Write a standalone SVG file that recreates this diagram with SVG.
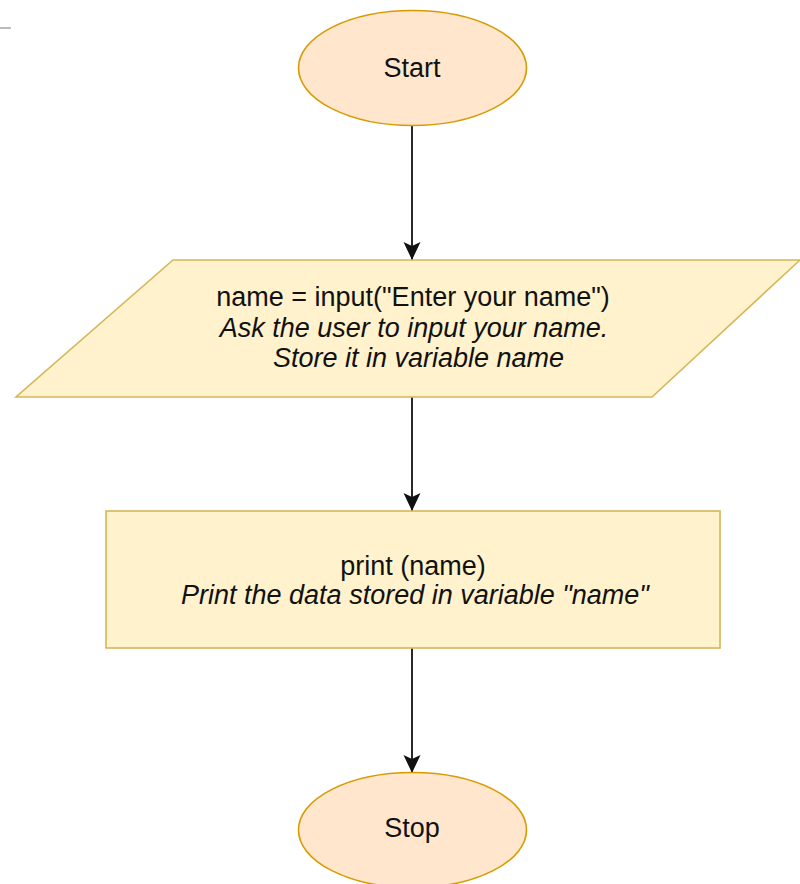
<svg xmlns="http://www.w3.org/2000/svg" width="800" height="884" viewBox="0 0 800 884">
  <style>
    .terminal { fill: #ffe6cc; stroke: #d79b00; stroke-width: 1.6; }
    .process { fill: #fff2cc; stroke: #d6b656; stroke-width: 1.6; }
    .label { font-family: "Liberation Sans", Arial, sans-serif; font-size: 27px; fill: #111; text-anchor: middle; }
    .note { font-style: italic; }
    .edge { stroke: #111; stroke-width: 1.8; fill: none; marker-end: url(#arrow); }
  </style>
  <defs>
    <marker id="arrow" viewBox="0 0 18 18" refX="18" refY="9" markerWidth="18" markerHeight="18" markerUnits="userSpaceOnUse" orient="auto">
      <path d="M0,0.5 L18,9 L0,17.5 L4,9 Z" fill="#111"/>
    </marker>
  </defs>
  <rect width="800" height="884" fill="#ffffff"/>
  <line x1="0" y1="28" x2="11" y2="28" stroke="#bbbbbb" stroke-width="2"/>

  <g id="connectors">
    <line class="edge" x1="412" y1="126" x2="412" y2="260"/>
    <line class="edge" x1="412" y1="397" x2="412" y2="511"/>
    <line class="edge" x1="412" y1="648" x2="412" y2="773"/>
  </g>

  <g id="start">
    <ellipse class="terminal" cx="412.5" cy="68" rx="114" ry="57.5"/>
    <text class="label" x="412" y="77">Start</text>
  </g>

  <g id="input">
    <polygon class="process" points="173,260 800,260 652,397 16,397"/>
    <text class="label" x="413" y="306">name = input("Enter your name")</text>
    <text class="label note" x="414" y="337">Ask the user to input your name.</text>
    <text class="label note" x="418.5" y="367">Store it in variable name</text>
  </g>

  <g id="print">
    <rect class="process" x="106" y="511" width="614" height="137"/>
    <text class="label" x="413" y="575">print (name)</text>
    <text class="label note" x="415" y="604">Print the data stored in variable "name"</text>
  </g>

  <g id="stop">
    <ellipse class="terminal" cx="412.5" cy="830" rx="114" ry="57.5"/>
    <text class="label" x="412" y="837">Stop</text>
  </g>
</svg>
